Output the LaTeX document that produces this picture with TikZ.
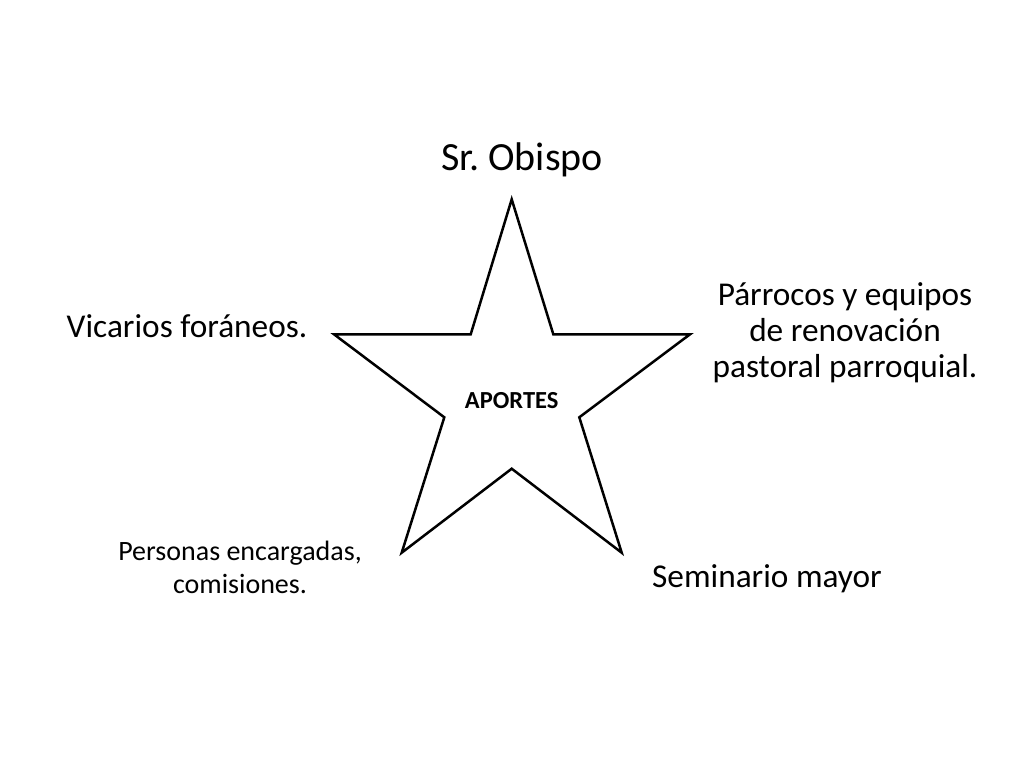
\documentclass[tikz,border=0pt]{standalone}
\usepackage{fontspec}
\setmainfont{Carlito}
\frenchspacing
\begin{document}
\begin{tikzpicture}[x=1pt,y=-1pt,
  lbl/.style={inner sep=0pt, align=center, text=black},
  big/.style={lbl, font=\fontsize{33.3}{36}\selectfont},
  starline/.style={draw=black, line width=2.5pt, line join=miter, fill=white}]
\useasboundingbox[fill=white] (0,0) rectangle (1024,768);
\coordinate (p1) at (511.7,199.3);
\coordinate (p2) at (553.3,334.3);
\coordinate (p3) at (690,334.3);
\coordinate (p4) at (579.3,417.3);
\coordinate (p5) at (621.7,552.7);
\coordinate (p6) at (511.7,468.7);
\coordinate (p7) at (401.7,552.7);
\coordinate (p8) at (444.3,417.3);
\coordinate (p9) at (334,334.3);
\coordinate (p10) at (470.7,334.3);
\draw[starline] (p1) -- (p2) -- (p3) -- (p4) -- (p5) -- (p6) -- (p7) -- (p8) -- (p9) -- (p10) -- cycle;
\node[lbl, font=\bfseries\fontsize{24.5}{26}\selectfont] (aportes) at (511.7,401) {APORTES};
\node[lbl, font=\fontsize{40}{44}\selectfont] (obispo) at (522,160) {Sr. Obispo};
\node[big] (parrocos) at (845,333) {Párrocos y equipos\\de renovación\\pastoral parroquial.};
\node[big] (vicarios) at (187,326) {Vicarios foráneos.};
\node[lbl, font=\fontsize{28}{33}\selectfont] (personas) at (240,567) {Personas encargadas,\\comisiones.};
\node[big] (seminario) at (767,579) {Seminario mayor};
\end{tikzpicture}
\end{document}
